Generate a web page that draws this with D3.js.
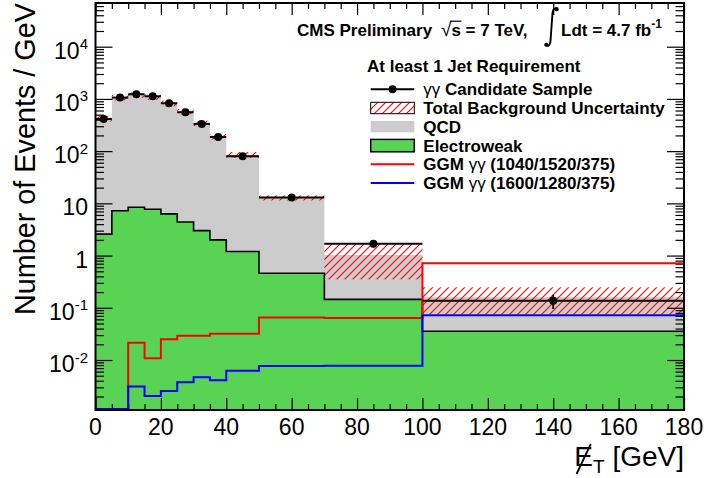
<!DOCTYPE html>
<html><head><meta charset="utf-8">
<script src="https://cdn.jsdelivr.net/npm/d3@7/dist/d3.min.js"></script>
<style>body{margin:0;background:#fff}svg{display:block}text{font-family:"Liberation Sans",Arial,Helvetica,sans-serif}</style>
</head><body>
<svg id="c" width="706" height="478"></svg>
<script>
// ---- data ----
const binEdges = [0,5,10,15,20,25,30,35,40,50,70,100,180];
const dataVals = [414,1060,1230,1125,826,556,332,187,80,12.9,1.68,0.136];
const dataErr  = [9,15,16,15,13,11,8,6,2.8,0.8,0.24,0.041];
const qcdVals  = [417,1053,1182,1082,820,566,339,188,84,12.3,0.875,0.125];
const ewVals   = [2.58,7.2,8.4,7.7,6.3,4.4,3.0,2.0,1.2,0.46,0.145,0.0355];
const bkgUnc   = [50,125,140,130,100,68,41,23,11,1.4,0.67,0.086];
const ggmA     = [0,0,0.0214,0.0108,0.025,0.029,0.029,0.032,0.032,0.065,0.064,0.71];
const ggmB     = [0,0,0.0031,0.00204,0.00255,0.00373,0.0047,0.0041,0.0062,0.0077,0.0078,0.072];
const xTickVals = [0,20,40,60,80,100,120,140,160,180];
const yTickVals = [1e-2,1e-1,1,10,100,1000,10000];
const yTickLabels = [["10","-2"],["10","-1"],["1",""],["10",""],["10","2"],["10","3"],["10","4"]];
const legendLabels = ["Candidate Sample","Total Background Uncertainty","QCD","Electroweak","(1040/1520/375)","(1600/1280/375)"];

// ---- layout ----
const svg = d3.select("#c");
const X0=95.5, X1=684, Y0=3, Y1=410;
const x = d3.scaleLinear().domain([0,180]).range([X0,X1]);
const y = d3.scaleLog().domain([0.001103,68700]).range([Y1,Y0]);
const GRAY="#cccccc", GREEN="#59d354";
const yc = v => v<=y.domain()[0] ? Y1-1 : y(v);

const defs = svg.append("defs");
const pat = defs.append("pattern").attr("id","hatch").attr("patternUnits","userSpaceOnUse")
  .attr("width",8).attr("height",8);
pat.append("path").attr("d","M0,8 L8,0 M-2,2 L2,-2 M6,10 L10,6")
  .attr("stroke","#ff0000").attr("stroke-width",1.1).attr("fill","none");

function stepPts(vals){
  const p=[];
  vals.forEach((v,i)=>{p.push([binEdges[i],v]);p.push([binEdges[i+1],v]);});
  return p;
}
const totVals = qcdVals.map((q,i)=>q+ewVals[i]);
const area = d3.area().x(d=>x(d[0])).y0(Y1).y1(d=>yc(d[1]));
const line = d3.line().x(d=>x(d[0])).y(d=>yc(d[1]));

svg.append("path").attr("d",area(stepPts(totVals))).attr("fill",GRAY);
svg.append("path").attr("d",area(stepPts(ewVals))).attr("fill",GREEN);
svg.append("path").attr("d",line(stepPts(ewVals))).attr("fill","none").attr("stroke","#000").attr("stroke-width",1.6);

// uncertainty hatch
svg.append("g").selectAll("rect").data(totVals).join("rect")
  .attr("x",(d,i)=>x(binEdges[i])).attr("width",(d,i)=>x(binEdges[i+1])-x(binEdges[i]))
  .attr("y",(d,i)=>y(d+bkgUnc[i])).attr("height",(d,i)=>y(Math.max(d-bkgUnc[i],1e-3))-y(d+bkgUnc[i]))
  .attr("fill","url(#hatch)");

// axes ticks
function minorVals(){const a=[];for(let e=-3;e<=4;e++)for(let m=2;m<=9;m++){const v=m*Math.pow(10,e);if(v>y.domain()[0]&&v<y.domain()[1])a.push(v);}return a;}
const xMinor = d3.range(0,181,5).filter(v=>v%20!==0);
const axG = svg.append("g");
function ax(gen,tr,vals,size){
  const g=axG.append("g").attr("transform",tr).call(gen.tickValues(vals).tickSize(size).tickFormat(""));
  g.select(".domain").remove();
  g.selectAll("line").attr("stroke","#000").attr("stroke-width",1.2);
}
ax(d3.axisBottom(x),`translate(0,${Y1})`,xTickVals,-12);
ax(d3.axisBottom(x),`translate(0,${Y1})`,xMinor,-6);
ax(d3.axisTop(x),`translate(0,${Y0})`,xTickVals,-12);
ax(d3.axisTop(x),`translate(0,${Y0})`,xMinor,-6);
ax(d3.axisLeft(y),`translate(${X0},0)`,yTickVals,-17);
ax(d3.axisLeft(y),`translate(${X0},0)`,minorVals(),-8.5);
ax(d3.axisRight(y),`translate(${X1},0)`,yTickVals,-17);
ax(d3.axisRight(y),`translate(${X1},0)`,minorVals(),-8.5);

// signal lines
svg.append("path").attr("d",line([[0,0]].concat(stepPts(ggmA)))).attr("fill","none").attr("stroke","#ff0000").attr("stroke-width",2);
svg.append("path").attr("d",line([[0,0]].concat(stepPts(ggmB)))).attr("fill","none").attr("stroke","#0000ff").attr("stroke-width",2);

// data
const dg = svg.append("g");
dataVals.forEach((v,i)=>{
  const xm = x((binEdges[i]+binEdges[i+1])/2);
  dg.append("line").attr("x1",x(binEdges[i])).attr("x2",x(binEdges[i+1])).attr("y1",y(v)).attr("y2",y(v)).attr("stroke","#000").attr("stroke-width",2);
  dg.append("line").attr("x1",xm).attr("x2",xm).attr("y1",y(v+dataErr[i])).attr("y2",y(v-dataErr[i])).attr("stroke","#000").attr("stroke-width",2);
  dg.append("circle").attr("cx",xm).attr("cy",y(v)).attr("r",4).attr("fill","#000");
});

// frame
svg.append("rect").attr("x",X0).attr("y",Y0).attr("width",X1-X0).attr("height",Y1-Y0)
  .attr("fill","none").attr("stroke","#000").attr("stroke-width",2);

// tick labels
svg.append("g").selectAll("text").data(xTickVals).join("text")
  .attr("x",d=>x(d)).attr("y",435).attr("text-anchor","middle").attr("font-size",23).text(d=>d);
const yl = svg.append("g").selectAll("text").data(yTickVals).join("text")
  .attr("x",88).attr("y",d=>y(d)+12).attr("text-anchor","end").attr("font-size",23);
yl.append("tspan").text((d,i)=>yTickLabels[i][0]);
yl.append("tspan").attr("font-size",15).attr("dy",-9.5).text((d,i)=>yTickLabels[i][1]);

// axis titles
svg.append("text").attr("transform","translate(35,3) rotate(-90)").attr("text-anchor","end")
  .attr("font-size",28.8).text("Number of Events / GeV");
const xt = svg.append("text").attr("x",684).attr("y",466).attr("text-anchor","end").attr("font-size",28);
xt.append("tspan").text("E");
xt.append("tspan").attr("font-size",19).attr("dy",7).text("T");
xt.append("tspan").attr("dy",-7).text(" [GeV]");
const eb = xt.node().getExtentOfChar(0);
svg.append("line").attr("x1",eb.x+eb.width*0.12).attr("y1",474).attr("x2",eb.x+eb.width*0.88).attr("y2",444)
  .attr("stroke","#000").attr("stroke-width",1.8);

// header
const hdr = svg.append("g").attr("font-weight","bold").attr("font-size",17);
hdr.append("text").attr("x",297).attr("y",36).text("CMS Preliminary");
const sq = hdr.append("text").attr("x",441).attr("y",36);
sq.append("tspan").attr("font-weight","normal").attr("font-size",19).text("\u221A");
sq.append("tspan").text("s = 7 TeV,");
const sb = sq.node().getExtentOfChar(1);
const rb = sq.node().getExtentOfChar(0);
svg.append("line").attr("x1",rb.x+rb.width-1.5).attr("x2",sb.x+sb.width+0.5).attr("y1",rb.y+2.2).attr("y2",rb.y+2.2)
  .attr("stroke","#000").attr("stroke-width",1.2);
svg.append("path").attr("d","M546.5,45 Q549.5,47.5 550.5,41 L552.5,13 Q553.5,7 556.5,9")
  .attr("fill","none").attr("stroke","#000").attr("stroke-width",1.9);
svg.append("circle").attr("cx",546.3).attr("cy",44.8).attr("r",2.1).attr("fill","#000");
svg.append("circle").attr("cx",556.6).attr("cy",9.2).attr("r",2.1).attr("fill","#000");
const ld = hdr.append("text").attr("x",561).attr("y",36);
ld.append("tspan").text("Ldt = 4.7 fb");
ld.append("tspan").attr("font-size",12).attr("dy",-8).text("-1");

// legend
const lg = svg.append("g");
lg.append("text").attr("x",367).attr("y",72).attr("font-weight","bold").attr("font-size",17).text("At least 1 Jet Requirement");
const rowY = [89.3,108,126.6,145.6,164.3,183];
const LX0=370.7, LX1=414.3, TX=423.3;
lg.append("line").attr("x1",LX0).attr("x2",LX1).attr("y1",rowY[0]).attr("y2",rowY[0]).attr("stroke","#000").attr("stroke-width",2);
lg.append("circle").attr("cx",(LX0+LX1)/2).attr("cy",rowY[0]).attr("r",4).attr("fill","#000");
lg.append("rect").attr("x",LX0).attr("y",rowY[1]-5.7).attr("width",LX1-LX0).attr("height",11.4).attr("fill","url(#hatch)").attr("stroke","#000").attr("stroke-width",1);
lg.append("rect").attr("x",LX0).attr("y",rowY[2]-5.7).attr("width",LX1-LX0).attr("height",11.4).attr("fill",GRAY);
lg.append("rect").attr("x",LX0).attr("y",rowY[3]-6.2).attr("width",LX1-LX0).attr("height",12.4).attr("fill",GREEN).attr("stroke","#000").attr("stroke-width",1.5);
lg.append("line").attr("x1",LX0).attr("x2",LX1).attr("y1",rowY[4]).attr("y2",rowY[4]).attr("stroke","#ff0000").attr("stroke-width",2);
lg.append("line").attr("x1",LX0).attr("x2",LX1).attr("y1",rowY[5]).attr("y2",rowY[5]).attr("stroke","#0000ff").attr("stroke-width",2);
legendLabels.forEach((t,i)=>{
  const tx = lg.append("text").attr("x",TX).attr("y",rowY[i]+6).attr("font-weight","bold").attr("font-size",17);
  if(i===0){tx.append("tspan").attr("font-weight","normal").text("\u03B3\u03B3 ");tx.append("tspan").text(t);}
  else if(i>=4){tx.append("tspan").text("GGM ");tx.append("tspan").attr("font-weight","normal").text("\u03B3\u03B3");tx.append("tspan").text(" "+t);}
  else tx.text(t);
});
</script>
</body></html>
